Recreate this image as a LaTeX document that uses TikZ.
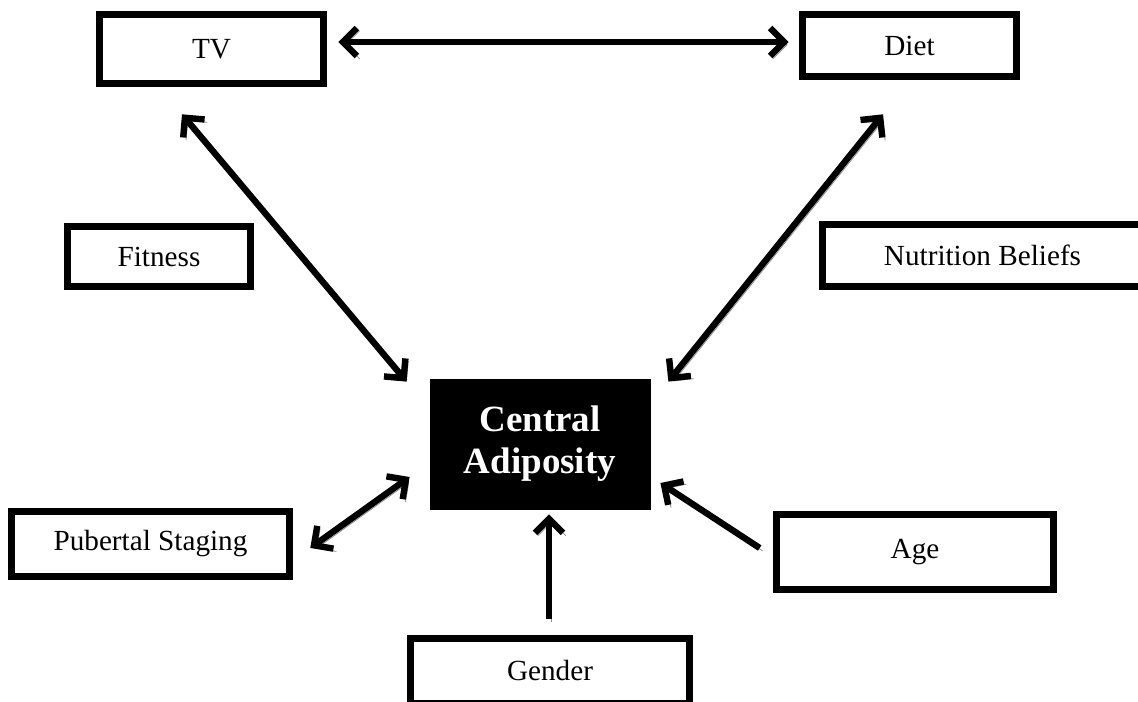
\documentclass[tikz,border=0pt]{standalone}
\usepackage{fontspec}
\setmainfont{Liberation Serif}
\usetikzlibrary{arrows.meta,calc}

\begin{document}
\begin{tikzpicture}[
    x=0.5pt, y=-0.5pt,
    font=\fontsize{14.6}{17}\selectfont,
    box/.style={draw, line width=3.3pt, inner sep=0pt, align=center},
    central/.style={draw, fill=black, text=white, inner sep=0pt, align=center,
      font=\fontsize{18.5}{21}\selectfont\bfseries},
    shadowed/.style={preaction={draw=black!45, transform canvas={xshift=1.4pt, yshift=-1.4pt}}},
    arrow/.style={-{Straight Barb[length=7pt, width=14pt]}, line width=3.2pt, shadowed},
    biarrow/.style={{Straight Barb[length=7pt, width=14pt]}-{Straight Barb[length=7pt, width=14pt]}, line width=3.2pt, shadowed}
  ]
  \useasboundingbox (0,0) rectangle (1138,701);

  % Outcome
  \node[central, minimum width=110pt, minimum height=65pt] (adip) at (540,444) {Central\\Adiposity};

  % Factors
  \node[box, minimum width=112pt, minimum height=34.5pt] (tv) at (211.5,49) {TV};
  \node[box, minimum width=107pt, minimum height=31pt] (diet) at (909.5,45.5) {Diet};
  \node[box, minimum width=91.5pt, minimum height=30pt] (fit) at (159,256.5) {Fitness};
  \node[box, minimum width=160pt, minimum height=31pt] (nutr) at (982.5,255.5) {Nutrition Beliefs};
  \node[box, minimum width=139pt, minimum height=32.5pt] (pub) at (150.5,544) {Pubertal Staging};
  \node[box, minimum width=138.5pt, minimum height=37.5pt] (age) at (915,552) {Age};
  \node[box, minimum width=139.5pt, minimum height=32.5pt] (gender) at (550,671) {Gender};

  % Connections
  \draw[biarrow] ($(tv.east)+(11.5,-7)$) -- ($(diet.west)+(-10.5,-3.5)$);
  \draw[biarrow] ($(tv.south)+(-29.5,27.5)$) -- ($(adip.north west)+(-23,3)$);
  \draw[biarrow] ($(diet.south)+(-26.5,34.5)$) -- ($(adip.north east)+(18,3)$);
  \draw[biarrow] ($(pub.east)+(17.5,4)$) -- ($(adip.west)+(-20,33)$);
  \draw[arrow] ($(age.west)+(-13.5,-4)$) -- ($(adip.east)+(10,39)$);
  \draw[arrow] ($(gender.north)+(-1,-16.5)$) -- ($(adip.south)+(9,5)$);

\end{tikzpicture}
\end{document}
